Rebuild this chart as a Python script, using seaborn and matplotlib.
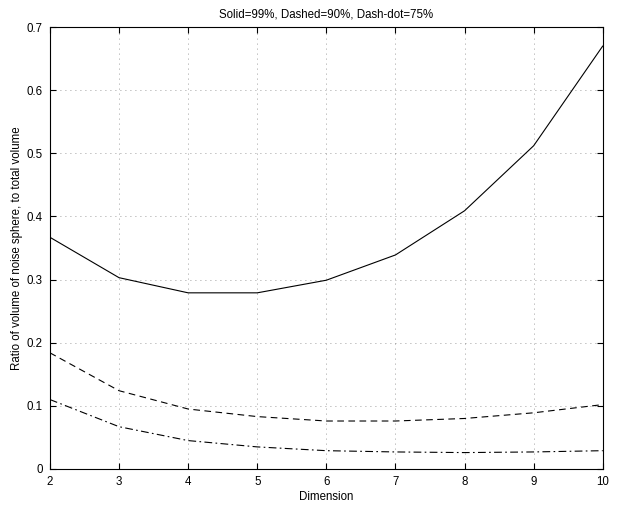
import numpy as np
import pandas as pd
import matplotlib
matplotlib.use("Agg")
import matplotlib.pyplot as plt
import seaborn as sns

dims = [2, 3, 4, 5, 6, 7, 8, 9, 10]
solid_99 = [0.367, 0.303, 0.279, 0.279, 0.299, 0.339, 0.409, 0.512, 0.670]
dashed_90 = [0.184, 0.124, 0.095, 0.083, 0.076, 0.076, 0.080, 0.089, 0.102]
dashdot_75 = [0.110, 0.067, 0.045, 0.035, 0.029, 0.027, 0.026, 0.027, 0.029]
series_names = ["99%", "90%", "75%"]
title = "Solid=99%, Dashed=90%, Dash-dot=75%"
xlabel = "Dimension"
ylabel = "Ratio of volume of noise sphere, to total volume"

df = pd.DataFrame({
    "Dimension": dims * 3,
    "Ratio": solid_99 + dashed_90 + dashdot_75,
    "Series": [series_names[0]] * 9 + [series_names[1]] * 9 + [series_names[2]] * 9,
})

sns.set_theme(style="ticks", rc={"text.color": "black", "axes.labelcolor": "black",
                                 "xtick.color": "black", "ytick.color": "black"})
plt.rcParams["font.family"] = ["Liberation Sans", "DejaVu Sans"]

fig = plt.figure(figsize=(6.24, 5.05), dpi=100)
ax = fig.add_axes([0.080, 0.0713, 0.886, 0.8752])

sns.lineplot(
    data=df, x="Dimension", y="Ratio", hue="Series", style="Series",
    palette=["black", "black", "black"],
    dashes={"99%": "", "90%": (6, 4), "75%": (7, 3, 1.5, 3)},
    linewidth=0.8, legend=False, ax=ax,
)

ax.set_xlim(2, 10)
ax.set_ylim(0, 0.7)
ax.set_xticks(range(2, 11))
ax.set_yticks(np.arange(0, 0.71, 0.1))
ax.set_yticklabels(["0", "0.1", "0.2", "0.3", "0.4", "0.5", "0.6", "0.7"])
ax.grid(True, linestyle=(0, (1, 5)), color="black", linewidth=0.6, alpha=0.5)
ax.tick_params(direction="in", top=True, right=True, labelsize=8.3, length=4, width=0.8, pad=5,
               colors="black")
for s in ax.spines.values():
    s.set_linewidth(0.8)
    s.set_color("black")
ax.set_title(title, fontsize=8.3, pad=7, color="black")
ax.set_xlabel(xlabel, fontsize=8.3, labelpad=2, color="black")
ax.set_ylabel(ylabel, fontsize=8.3, labelpad=3, color="black")

fig.savefig("out.png", dpi=100)
